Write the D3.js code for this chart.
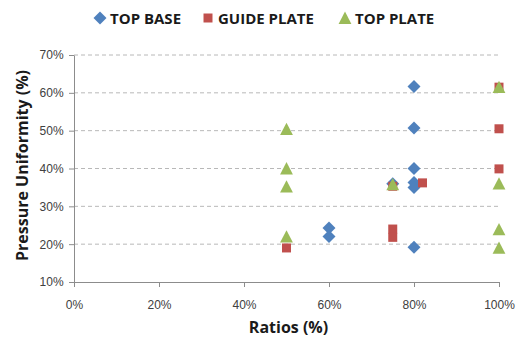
<!DOCTYPE html>
<html>
<head>
<meta charset="utf-8">
<script src="https://cdn.jsdelivr.net/npm/d3@7"></script>
<style>
  body { margin: 0; background: #fff; }
  svg { display: block; font-family: "Open Sans", "Liberation Sans", sans-serif; }
</style>
</head>
<body>
<svg id="chart" width="525" height="343"></svg>
<script>
// Series data: ratio (%) vs pressure uniformity (%)
const seriesNames = ["TOP BASE", "GUIDE PLATE", "TOP PLATE"];
const topBaseX = [60, 60, 75, 80, 80, 80, 80, 80, 80];
const topBaseY = [24.3, 22, 36, 61.7, 50.7, 40, 36.3, 35, 19.2];
const guidePlateX = [50, 75, 75, 75, 82, 100, 100, 100];
const guidePlateY = [19, 24, 21.8, 35.3, 36.2, 61.5, 50.5, 39.9];
const topPlateX = [50, 50, 50, 50, 75, 100, 100, 100, 100];
const topPlateY = [50.4, 40, 35.2, 22, 35.8, 61.5, 36, 23.9, 19];
const xTicks = [0, 20, 40, 60, 80, 100];
const yTicks = [10, 20, 30, 40, 50, 60, 70];

const colors = ["#4F81BD", "#C0504D", "#9BBB59"];

// Marker shapes: square-proportioned diamond, square, triangle
const diamond = {draw(ctx, size) {
  const r = Math.sqrt(size / 2);
  ctx.moveTo(0, -r); ctx.lineTo(r, 0); ctx.lineTo(0, r); ctx.lineTo(-r, 0); ctx.closePath();
}};
const triangle = {draw(ctx, size) {
  const h = Math.sqrt(size);
  ctx.moveTo(0, -h / 2 - 0.5); ctx.lineTo(h / 2 + 0.5, h / 2); ctx.lineTo(-h / 2 - 0.5, h / 2); ctx.closePath();
}};
const symbols = [diamond, d3.symbolSquare, triangle];
const symSizes = [84, 81, 140];

const series = [
  {name: seriesNames[0], xs: topBaseX, ys: topBaseY},
  {name: seriesNames[1], xs: guidePlateX, ys: guidePlateY},
  {name: seriesNames[2], xs: topPlateX, ys: topPlateY}
];

const svg = d3.select("#chart");
const margin = {left: 74, right: 26, top: 55, bottom: 61};
const W = 525, H = 343;
const x = d3.scaleLinear().domain([0, 100]).range([margin.left, W - margin.right]);
const y = d3.scaleLinear().domain([10, 70]).range([H - margin.bottom, margin.top]);

// Dashed horizontal gridlines
svg.append("g").selectAll("line")
  .data(yTicks.filter(t => t > 10))
  .join("line")
  .attr("x1", x(0)).attr("x2", x(100))
  .attr("y1", d => y(d)).attr("y2", d => y(d))
  .attr("stroke", "#b8b8b8").attr("stroke-width", 1)
  .attr("stroke-dasharray", "4,3");

// Axes
const fmt = d => d + "%";
const xAxis = svg.append("g")
  .attr("transform", `translate(0,${y(10)})`)
  .call(d3.axisBottom(x).tickValues(xTicks).tickFormat(fmt).tickSize(5).tickSizeOuter(0));
const yAxis = svg.append("g")
  .attr("transform", `translate(${x(0)},0)`)
  .call(d3.axisLeft(y).tickValues(yTicks).tickFormat(fmt).tickSize(5).tickSizeOuter(0));

[xAxis, yAxis].forEach(a => {
  a.select(".domain").attr("stroke", "#8c8c8c");
  a.selectAll(".tick line").attr("stroke", "#8c8c8c");
  a.selectAll(".tick text").attr("fill", "#404040").attr("font-size", 12);
});
xAxis.selectAll(".tick text").attr("dy", "1.55em");
yAxis.selectAll(".tick text").attr("dx", "-0.2em");

// Markers
series.forEach((s, i) => {
  const pts = s.xs.map((v, j) => [v, s.ys[j]]);
  svg.append("g").selectAll("path")
    .data(pts)
    .join("path")
    .attr("d", d3.symbol().type(symbols[i]).size(symSizes[i]))
    .attr("transform", d => `translate(${x(d[0])},${y(d[1])})`)
    .attr("fill", colors[i]);
});

// Axis titles
svg.append("text")
  .attr("x", (x(0) + x(100)) / 2 + 2).attr("y", 333)
  .attr("text-anchor", "middle")
  .attr("font-size", 16).attr("font-weight", "bold").attr("fill", "#1a1a1a")
  .text("Ratios (%)");
svg.append("text")
  .attr("transform", `translate(28,${y(40) - 3}) rotate(-90)`)
  .attr("text-anchor", "middle")
  .attr("font-size", 16).attr("font-weight", "bold").attr("fill", "#1a1a1a")
  .text("Pressure Uniformity (%)");

// Legend
const legendX = [100, 208, 345];
const legend = svg.append("g");
series.forEach((s, i) => {
  legend.append("path")
    .attr("d", d3.symbol().type(symbols[i]).size(symSizes[i]))
    .attr("transform", `translate(${legendX[i]},18)`)
    .attr("fill", colors[i]);
  legend.append("text")
    .attr("x", legendX[i] + 10).attr("y", 23.5)
    .attr("font-size", 15).attr("font-weight", "bold").attr("fill", "#1a1a1a")
    .text(s.name);
});
</script>
</body>
</html>
